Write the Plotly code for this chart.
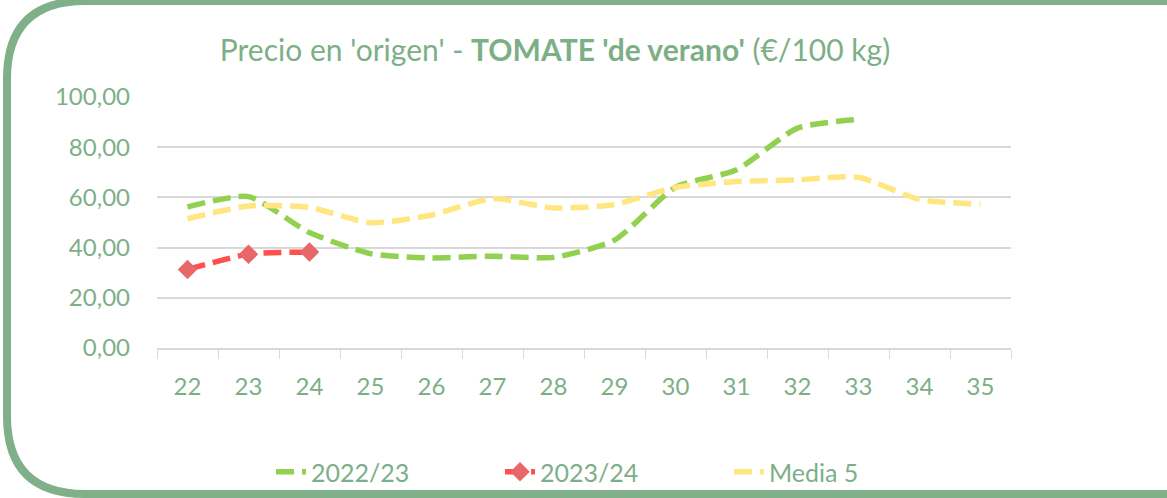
import plotly.graph_objects as go

weeks = ["22", "23", "24", "25", "26", "27", "28", "29", "30", "31", "32", "33", "34", "35"]
s2022 = [56.2, 60.3, 46.0, 37.6, 35.9, 36.6, 36.1, 43.0, 64.0, 71.0, 87.6, 91.1, None, None]
s2023 = [31.3, 37.4, 38.2]
media5 = [51.5, 56.6, 56.0, 49.9, 53.0, 59.5, 55.8, 57.2, 64.0, 66.3, 67.0, 68.0, 59.2, 57.3]

W, H = 1167, 498
L, R, T, B = 157, 1011, 97, 348

def px(x):
    return (x - L) / (R - L)

def py(y):
    return (B - y) / (B - T)

TXT = "#7DAF87"
FONT = "Lato"
DASH = "18px,8px"

fig = go.Figure()
fig.add_trace(go.Scatter(x=weeks, y=s2022, name="2022/23", mode="lines",
                         line=dict(color="#92D050", width=5.5, dash=DASH, shape="spline", smoothing=0.6)))
fig.add_trace(go.Scatter(x=weeks[:len(s2023)], y=s2023, name="2023/24", mode="lines+markers",
                         line=dict(color="#FF4F4F", width=5.5, dash=DASH, shape="spline", smoothing=0.6),
                         marker=dict(symbol="diamond", size=15, color="#E8676A")))
fig.add_trace(go.Scatter(x=weeks, y=media5, name="Media 5", mode="lines",
                         line=dict(color="#FFE680", width=5.5, dash=DASH, shape="spline", smoothing=0.6)))

# rounded border
xl, xr, yt, yb, r = 7, 1180, 1, 494, 78
path = (f"M {px(xl+r)},{py(yt)} L {px(xr)},{py(yt)} L {px(xr)},{py(yb)} L {px(xl+r)},{py(yb)} "
        f"Q {px(xl)},{py(yb)} {px(xl)},{py(yb-r)} L {px(xl)},{py(yt+r)} "
        f"Q {px(xl)},{py(yt)} {px(xl+r)},{py(yt)} Z")
fig.add_shape(type="path", path=path, xref="paper", yref="paper",
              line=dict(color="#80B08A", width=8), layer="above")

fig.update_layout(
    width=W, height=H,
    margin=dict(l=L, r=W - R, t=T, b=H - B),
    paper_bgcolor="white", plot_bgcolor="white",
    separators=",.",
    font=dict(family=FONT, color=TXT, size=20),
    title=dict(text="Precio en 'origen' - <b>TOMATE 'de verano'</b> (€/100 kg)",
               x=555 / W, xanchor="center", y=1 - 50 / H, yanchor="middle",
               font=dict(size=30, color=TXT, family=FONT)),
    showlegend=True,
    legend=dict(orientation="h", xref="container", yref="container",
                x=271 / W, xanchor="left", y=1 - 472 / H, yanchor="middle",
                font=dict(size=25, color=TXT, family=FONT), entrywidth=184, entrywidthmode="pixels",
                bgcolor="rgba(0,0,0,0)"),
    xaxis=dict(type="category", tickson="boundaries", ticks="outside", ticklen=9, tickcolor="#D9D9D9",
               showline=True, linecolor="#D9D9D9", linewidth=1.5, showgrid=False, automargin=False,
               tickfont=dict(size=24, color=TXT), ticklabelstandoff=16, range=[-0.5, 13.5]),
    yaxis=dict(range=[0, 100], dtick=20, tickformat=".2f", showgrid=True, gridcolor="#D9D9D9",
               gridwidth=1.5, zeroline=False, showline=False, ticks="", automargin=False,
               tickfont=dict(size=24, color=TXT), ticklabelstandoff=26),
)

js = ("document.documentElement.style.margin='0';document.body.style.margin='0';"
      "document.documentElement.style.overflow='hidden';document.body.style.overflow='hidden';"
      "document.documentElement.style.height='498px';document.body.style.height='498px';")
fig.write_html("out.html", post_script=js, config={"displayModeBar": False})
